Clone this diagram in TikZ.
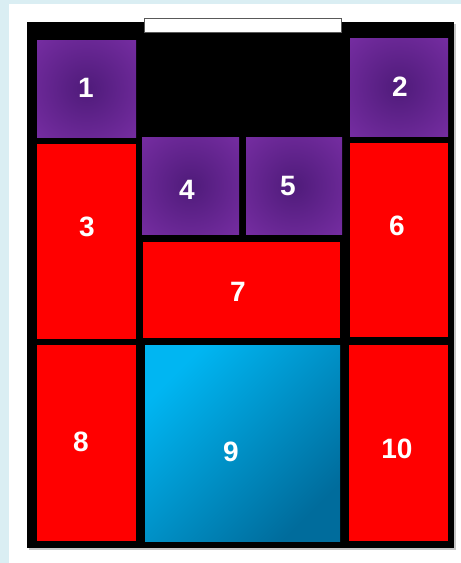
\documentclass[tikz,border=0pt]{standalone}
\usepackage{fontspec}
\setmainfont{Liberation Sans}
\usetikzlibrary{positioning}
\definecolor{bgA}{HTML}{DAEEF3}
\definecolor{purA}{HTML}{7A2FA6}
\definecolor{purB}{HTML}{4F1B7A}
\definecolor{redA}{HTML}{FF0000}
\definecolor{bluA}{HTML}{00B6F2}
\definecolor{bluB}{HTML}{006C9C}
\pgfdeclareradialshading{purglow}{\pgfpoint{0bp}{0bp}}{color(0bp)=(purB); color(40bp)=(purA); color(50bp)=(purA)}

\begin{document}
\begin{tikzpicture}[x=1pt,y=-1pt,
  cell/.style={anchor=north west,inner sep=0pt,outer sep=0pt},
  purcell/.style={cell,shading=purglow},
  redcell/.style={cell,fill=redA},
  blucell/.style={cell,top color=bluA,bottom color=bluB,shading angle=45},
  num/.style={text=white,inner sep=0pt,font=\fontsize{28}{28}\selectfont\bfseries}]
  \useasboundingbox (0,0) rectangle (461,563);
  % page and frame
  \fill[bgA] (0,0) rectangle (461,563);
  \fill[white] (9,4) rectangle (461,563);
  \fill[gray!45] (29,24) rectangle (456,550);
  \fill[black] (27,22) rectangle (454,548);
  \draw[gray!70!black,fill=white] (144,18) rectangle (341,32);
  % top row
  \node[purcell,minimum width=99pt,minimum height=97pt] (b1) at (37,40) {};
  \node[purcell,minimum width=98pt,minimum height=98pt] (b2) at (350,38) {};
  % middle
  \node[redcell,minimum width=99pt,minimum height=195pt] (b3) at (37,144) {};
  \node[purcell,minimum width=97pt,minimum height=97pt] (b4) at (142,137) {};
  \node[purcell,minimum width=96pt,minimum height=97pt] (b5) at (246,137) {};
  \node[redcell,minimum width=98pt,minimum height=194pt] (b6) at (350,143) {};
  \node[redcell,minimum width=197pt,minimum height=96pt] (b7) at (143,242) {};
  % bottom row
  \node[redcell,minimum width=99pt,minimum height=196pt] (b8) at (37,345) {};
  \node[blucell,minimum width=195pt,minimum height=196pt] (b9) at (145,345) {};
  \node[redcell,minimum width=99pt,minimum height=196pt] (b10) at (349,345) {};
  % numbers
  \node[num] (n1) at (86,88) {1};
  \node[num] (n2) at (400,87) {2};
  \node[num] (n3) at (87,227) {3};
  \node[num] (n4) at (187,190) {4};
  \node[num] (n5) at (288,186) {5};
  \node[num] (n6) at (397,226) {6};
  \node[num] (n7) at (238,292) {7};
  \node[num] (n8) at (81,442) {8};
  \node[num] (n9) at (231,452) {9};
  \node[num] (n10) at (397,449) {10};
\end{tikzpicture}
\end{document}
